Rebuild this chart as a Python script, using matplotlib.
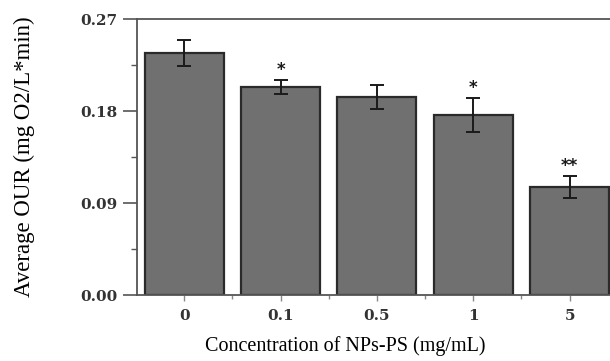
import matplotlib
matplotlib.use("Agg")
import matplotlib.pyplot as plt
from matplotlib.ticker import MultipleLocator

categories = ["0", "0.1", "0.5", "1", "5"]
values = [0.2365, 0.2035, 0.1937, 0.176, 0.1057]
errors = [0.0125, 0.0065, 0.012, 0.017, 0.011]
marks = ["", "*", "", "*", "**"]
yticks = [0.00, 0.09, 0.18, 0.27]

fig = plt.figure(figsize=(6.10, 3.61), dpi=100)
ax = fig.add_axes([0.2246, 0.1828, 0.7754, 0.7645])

x = list(range(len(categories)))
ax.bar(x, values, width=0.82, color="#707070", edgecolor="#2a2a2a", linewidth=1.6, zorder=2)
ax.errorbar(x, values, yerr=errors, fmt="none", ecolor="#1a1a1a", elinewidth=1.4,
            capsize=5, capthick=1.4, zorder=3)
for xi, v, e, m in zip(x, values, errors, marks):
    if m:
        ax.text(xi, v + e + 0.001, m, ha="center", va="bottom", fontsize=12,
                fontweight="bold", color="#1a1a1a", family="DejaVu Sans")

ax.set_xlim(-0.49, 4.42)
ax.set_ylim(0, 0.27)
ax.set_yticks(yticks)
ax.set_yticklabels([f"{t:.2f}" for t in yticks])
ax.yaxis.set_minor_locator(MultipleLocator(0.045))
ax.set_xticks(x)
ax.set_xticklabels(categories)
ax.set_xticks([i + 0.5 for i in range(len(categories) - 1)], minor=True)

for s in ["left", "bottom", "top"]:
    ax.spines[s].set_color("#555555")
    ax.spines[s].set_linewidth(1.3)
ax.spines["right"].set_visible(False)

ax.tick_params(axis="y", which="major", length=10, width=1.2, color="#555555",
               labelsize=11, pad=4)
ax.tick_params(axis="y", which="minor", length=4, width=1.0, color="#555555")
ax.tick_params(axis="x", which="major", length=4, width=1.0, color="#888888",
               labelsize=11, pad=6)
ax.tick_params(axis="x", which="minor", length=3, width=1.0, color="#888888")
for lab in ax.get_xticklabels() + ax.get_yticklabels():
    lab.set_family("DejaVu Serif")
    lab.set_fontweight("bold")
    lab.set_color("#333333")

ax.set_xlabel("Concentration of NPs-PS (mg/mL)", family="Liberation Serif",
              fontsize=14.5)
ax.xaxis.set_label_coords(0.44, -0.15)
ax.set_ylabel("Average OUR (mg O2/L*min)", family="Liberation Serif",
              fontsize=16.5)
ax.yaxis.set_label_coords(-0.215, 0.5)

fig.savefig("out.png", dpi=100)
